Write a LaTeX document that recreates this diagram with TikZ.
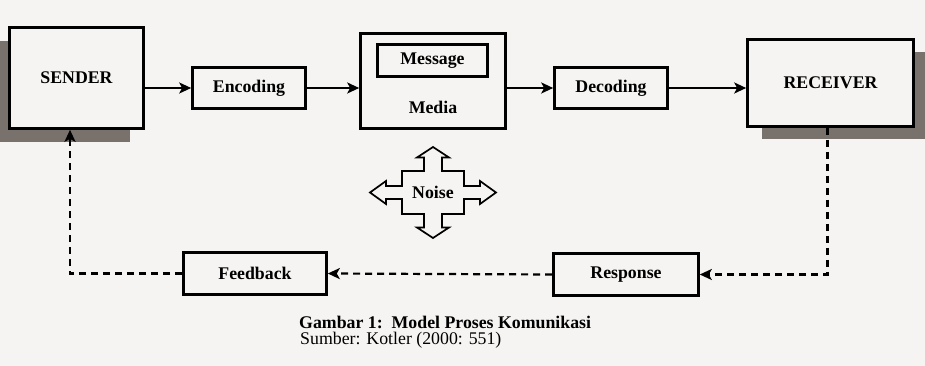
\documentclass[tikz,border=0pt]{standalone}
\usepackage{fontspec}
\setmainfont{Liberation Serif}
\usetikzlibrary{arrows.meta,shadows}
\definecolor{paperbg}{RGB}{245,244,242}
\definecolor{shadowgrey}{RGB}{121,113,108}
\newcommand{\labelfont}{\fontsize{17.8}{18}\selectfont}
\tikzset{
  blockbox/.style={draw, line width=2.6pt, fill=paperbg, inner sep=0pt, font=\labelfont\bfseries},
  flowarrow/.style={line width=2.2pt, -{Stealth[length=12pt,width=11pt,inset=3pt]}},
  backarrow/.style={flowarrow, dash pattern=on 7pt off 5pt},
}

\begin{document}
\begin{tikzpicture}[x=1pt,y=-1pt]

\useasboundingbox (0,0) rectangle (925,366);
\fill[paperbg] (0,0) rectangle (925,366);

% forward row
\node[blockbox, minimum width=134pt, minimum height=101pt,
  drop shadow={shadow xshift=-14pt,shadow yshift=-14pt,opacity=1,fill=shadowgrey}] (sender) at (76.5,78) {SENDER};
\node[blockbox, minimum width=113pt, minimum height=41pt] (encoding) at (249,88) {Encoding};
\node[blockbox, minimum width=145pt, minimum height=95pt] (media) at (433,81) {};
\node[blockbox, minimum width=110pt, minimum height=32pt] (message) at (432.5,60.5) {Message};
\node[font=\labelfont\bfseries] (medialabel) at (433,107) {Media};
\node[blockbox, minimum width=113pt, minimum height=41pt] (decoding) at (611,88) {Decoding};
\node[blockbox, minimum width=166pt, minimum height=87pt,
  drop shadow={shadow xshift=14pt,shadow yshift=-13pt,opacity=1,fill=shadowgrey}] (receiver) at (830.5,83) {RECEIVER};

\draw[flowarrow] (sender.east |- encoding.west) -- (encoding.west);
\draw[flowarrow] (encoding.east) -- (media.west |- encoding.east);
\draw[flowarrow] (media.east |- decoding.west) -- (decoding.west);
\draw[flowarrow] (decoding.east) -- (receiver.west |- decoding.east);

% noise
\begin{scope}[shift={(433,192.5)}]
\draw[line width=1.7pt, fill=paperbg, line join=miter]
  (0,-45.5) -- (16,-35) -- (9,-35) -- (9,-21.5) -- (31,-21.5) -- (31,-6.5)
  -- (47,-6.5) -- (47,-11.5) -- (63,0) -- (47,11.5) -- (47,6.5) -- (31,6.5)
  -- (31,21.5) -- (9,21.5) -- (9,35) -- (16,35) -- (0,45.5) -- (-16,35)
  -- (-9,35) -- (-9,21.5) -- (-31,21.5) -- (-31,6.5) -- (-47,6.5) -- (-47,11.5)
  -- (-63,0) -- (-47,-11.5) -- (-47,-6.5) -- (-31,-6.5) -- (-31,-21.5)
  -- (-9,-21.5) -- (-9,-35) -- (-16,-35) -- cycle;
\node[font=\labelfont\bfseries] (noise) at (0,0) {Noise};
\end{scope}

% feedback row
\node[blockbox, minimum width=145pt, minimum height=42pt] (response) at (626,274.5) {Response};
\node[blockbox, minimum width=143pt, minimum height=42pt] (feedback) at (255,273.5) {Feedback};

\draw[backarrow] ([xshift=-3pt]receiver.south) |- (response.east);
\draw[backarrow] (response.west) -- (feedback.east);
\draw[backarrow] (feedback.west) -| ([xshift=-6.5pt]sender.south);

% caption
\node[anchor=base west, inner sep=0pt, font=\labelfont\bfseries] (caption) at (299,328) {Gambar 1:\ \ Model Proses Komunikasi};
\node[anchor=base west, inner sep=0pt, font=\labelfont] (source) at (300,344) {Sumber: Kotler (2000: 551)};

\end{tikzpicture}
\end{document}
